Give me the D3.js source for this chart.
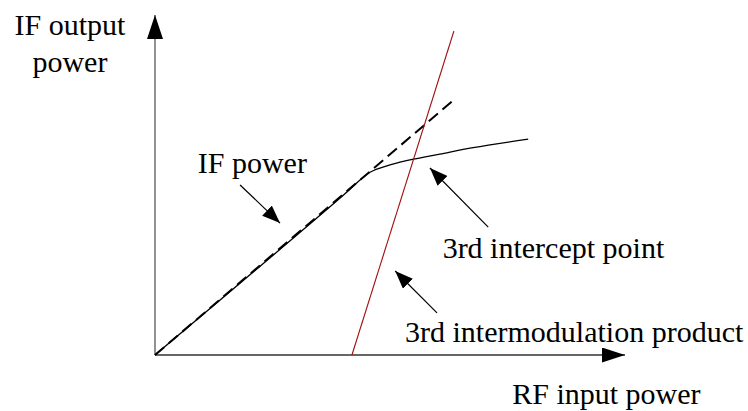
<!DOCTYPE html>
<html>
<head>
<meta charset="utf-8">
<script src="https://cdn.jsdelivr.net/npm/d3@7"></script>
<style>
  html, body { margin: 0; padding: 0; background: #fff; }
  svg { display: block; }
  text { font-family: "Liberation Serif", "Times New Roman", serif; font-size: 30px; fill: #000; }
</style>
</head>
<body>
<script>
// ---- data (abstract units: input power on x, output power on y) ----
const idealX = [0, 63.8];            // extrapolated linear IF response (dashed)
const idealY = [0, 75.3];
const outputX = [0, 40.0, 45.0, 46.4, 50.0, 55.0, 60.6, 67.7, 79.4];   // actual IF output (compressing)
const outputY = [0, 46.9, 53.1, 54.2, 55.9, 57.6, 59.1, 61.0, 63.5];
const imX = [41.9, 63.6];            // 3rd order intermodulation product
const imY = [0, 95.3];
const axisXMax = 100, axisYMax = 100;

const labels = ["IF power", "3rd intercept point", "3rd intermodulation product"];
const labelX = [9.1, 61.2, 53.2];
const labelY = [53.5, 28.5, 3.8];
const pointerFromX = [18.1, 70.9, 60.0];
const pointerFromY = [50.0, 37.6, 12.4];
const pointerToX = [26.6, 58.5, 51.1];
const pointerToY = [38.8, 55.0, 24.7];

const xTitle = "RF input power";
const yTitle = ["IF output", "power"];

// ---- layout ----
const W = 748, H = 411;
const x = d3.scaleLinear().domain([0, axisXMax]).range([155, 625]);
const y = d3.scaleLinear().domain([0, axisYMax]).range([355, 15]);

const svg = d3.select("body").append("svg").attr("width", W).attr("height", H);
const defs = svg.append("defs");
function marker(id, len, wid) {
  defs.append("marker").attr("id", id)
    .attr("markerUnits", "userSpaceOnUse")
    .attr("viewBox", `0 ${-wid/2} ${len} ${wid}`)
    .attr("refX", len).attr("refY", 0)
    .attr("markerWidth", len).attr("markerHeight", wid)
    .attr("orient", "auto")
    .append("path").attr("d", `M0,${-wid/2}L${len},0L0,${wid/2}Z`).attr("fill", "#000");
}
marker("axisHeadY", 24, 16);
marker("axisHeadX", 23, 15);
marker("ptrHead", 18, 14);

// axes
svg.append("line")
  .attr("x1", x(0)).attr("y1", y(0)).attr("x2", x(0)).attr("y2", y(axisYMax))
  .attr("stroke", "#555").attr("stroke-width", 1.3).attr("marker-end", "url(#axisHeadY)");
svg.append("line")
  .attr("x1", x(0)).attr("y1", y(0)).attr("x2", x(axisXMax)).attr("y2", y(0))
  .attr("stroke", "#333").attr("stroke-width", 1.3).attr("marker-end", "url(#axisHeadX)");

// actual output curve
const line = d3.line().x(d => x(d[0])).y(d => y(d[1])).curve(d3.curveCatmullRom.alpha(0.5));
svg.append("path")
  .attr("d", line(outputX.map((v, i) => [v, outputY[i]])))
  .attr("fill", "none").attr("stroke", "#000").attr("stroke-width", 1.3);

// ideal linear extrapolation (dashed)
svg.append("path")
  .attr("d", d3.line().x(d => x(d[0])).y(d => y(d[1]))(idealX.map((v, i) => [v, idealY[i]])))
  .attr("fill", "none").attr("stroke", "#000").attr("stroke-width", 2)
  .attr("stroke-dasharray", "12,6");

// third order IM line
svg.append("path")
  .attr("d", d3.line().x(d => x(d[0])).y(d => y(d[1]))(imX.map((v, i) => [v, imY[i]])))
  .attr("fill", "none").attr("stroke", "#a01010").attr("stroke-width", 1.1);

// labels and pointers
labels.forEach((t, i) => {
  svg.append("text").attr("x", x(labelX[i])).attr("y", y(labelY[i])).text(t);
  svg.append("line")
    .attr("x1", x(pointerFromX[i])).attr("y1", y(pointerFromY[i]))
    .attr("x2", x(pointerToX[i])).attr("y2", y(pointerToY[i]))
    .attr("stroke", "#000").attr("stroke-width", 1.2).attr("marker-end", "url(#ptrHead)");
});

// axis titles
svg.append("text").attr("x", x(76.0)).attr("y", y(-14.4)).text(xTitle);
const yt = svg.append("text").attr("text-anchor", "middle");
yt.append("tspan").attr("x", x(-18.1)).attr("y", y(94.1)).text(yTitle[0]);
yt.append("tspan").attr("x", x(-18.1)).attr("y", y(83.2)).text(yTitle[1]);
</script>
</body>
</html>
